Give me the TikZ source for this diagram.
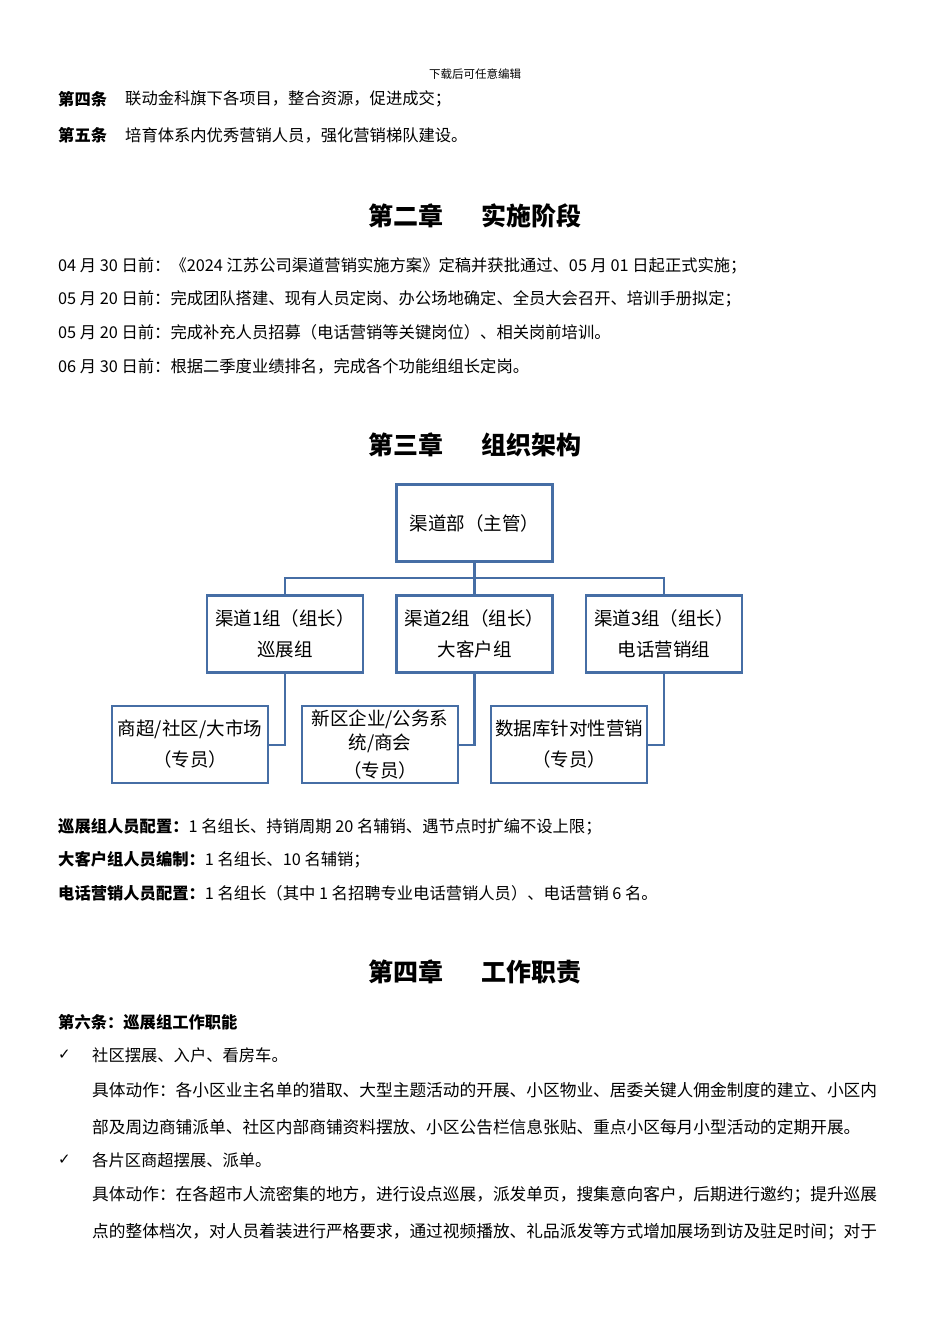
\documentclass[tikz,border=0pt]{standalone}
\usepackage{fontspec}
\setmainfont{Noto Sans CJK SC}
\newfontfamily\dvs{DejaVu Sans}
\definecolor{obc}{RGB}{70,110,165}
\begin{document}
\begin{tikzpicture}[x=1pt,y=-1pt,
 tl/.style={anchor=west,inner sep=0pt,font=\fontsize{16.3}{18}\selectfont},
 tw/.style={anchor=west,inner sep=0pt,font=\fontsize{16.7}{18}\selectfont},
 hd/.style={inner sep=0pt,font=\fontsize{25}{27}\selectfont\bfseries},
 ob/.style={draw=obc,line width=2.2pt,minimum width=156pt,minimum height=77pt,align=center,font=\fontsize{18.5}{31}\selectfont,inner sep=1pt},
 ln/.style={draw=obc,line width=2.2pt}]
\useasboundingbox (0,0) rectangle (950,1344);
\node[inner sep=0pt,font=\fontsize{11.5}{12}\selectfont] (hdr) at (475,74) {下载后可任意编辑};
\node[tl,font=\fontsize{16.3}{18}\selectfont\bfseries] (a4) at (58,99) {第四条};
\node[tl] (a4t) at (125,99) {联动金科旗下各项目，整合资源，促进成交；};
\node[tl,font=\fontsize{16.3}{18}\selectfont\bfseries] (a5) at (58,135) {第五条};
\node[tl] (a5t) at (125,135) {培育体系内优秀营销人员，强化营销梯队建设。};
\node[hd] (h2) at (475,216) {第二章\hspace{1.5em}实施阶段};
\node[tl] (l1) at (58,266) {04 月 30 日前：《2024 江苏公司渠道营销实施方案》定稿并获批通过、05 月 01 日起正式实施；};
\node[tl] (l2) at (58,299) {05 月 20 日前：完成团队搭建、现有人员定岗、办公场地确定、全员大会召开、培训手册拟定；};
\node[tl] (l3) at (58,332) {05 月 20 日前：完成补充人员招募（电话营销等关键岗位）、相关岗前培训。};
\node[tl] (l4) at (58,366) {06 月 30 日前：根据二季度业绩排名，完成各个功能组组长定岗。};
\node[hd] (h3) at (475,445) {第三章\hspace{1.5em}组织架构};
% org chart
\node[ob] (top) at (474.5,523) {渠道部（主管）};
\node[ob] (g1) at (285,634) {渠道1组（组长）\\巡展组};
\node[ob] (g2) at (474.5,634) {渠道2组（组长）\\大客户组};
\node[ob] (g3) at (664,634) {渠道3组（组长）\\电话营销组};
\node[ob] (s1) at (190,744.5) {商超/社区/大市场\\（专员）};
\node[ob,font=\fontsize{18.5}{24}\selectfont] (s2) at (380,744.5) {新区企业/公务系\\统/商会\\[4pt]（专员）};
\node[ob] (s3) at (569,744.5) {数据库针对性营销\\（专员）};
\coordinate (bus) at (474.5,578);
\draw[ln] (top.south) -- (bus);
\draw[ln] (g1.north) |- (bus) -| (g3.north);
\draw[ln] (bus) -- (g2.north);
\draw[ln] (g1.south) |- (s1.east |- 0,745);
\draw[ln] (g2.south) |- (s2.east |- 0,745);
\draw[ln] (g3.south) |- (s3.east |- 0,745);
\node[tl] (c1) at (58,827) {\textbf{巡展组人员配置：}1 名组长、持销周期 20 名辅销、遇节点时扩编不设上限；};
\node[tl] (c2) at (58,860) {\textbf{大客户组人员编制：}1 名组长、10 名辅销；};
\node[tl] (c3) at (58,893) {\textbf{电话营销人员配置：}1 名组长（其中 1 名招聘专业电话营销人员）、电话营销 6 名。};
\node[hd] (h4) at (475,972) {第四章\hspace{1.5em}工作职责};
\node[tl,font=\fontsize{16.3}{18}\selectfont\bfseries] (a6) at (58,1022) {第六条：巡展组工作职能};
\node[tl,font=\dvs\fontsize{15}{16}\selectfont] (ck1) at (58,1055) {✓};
\node[tl] (p1) at (92,1055) {社区摆展、入户、看房车。};
\node[tw] (p2) at (92,1090) {具体动作：各小区业主名单的猎取、大型主题活动的开展、小区物业、居委关键人佣金制度的建立、小区内};
\node[tw] (p3) at (92,1127) {部及周边商铺派单、社区内部商铺资料摆放、小区公告栏信息张贴、重点小区每月小型活动的定期开展。};
\node[tl,font=\dvs\fontsize{15}{16}\selectfont] (ck2) at (58,1160) {✓};
\node[tl] (p4) at (92,1160) {各片区商超摆展、派单。};
\node[tw] (p5) at (92,1195) {具体动作：在各超市人流密集的地方，进行设点巡展，派发单页，搜集意向客户，后期进行邀约；提升巡展};
\node[tw] (p6) at (92,1232) {点的整体档次，对人员着装进行严格要求，通过视频播放、礼品派发等方式增加展场到访及驻足时间；对于};
\end{tikzpicture}
\end{document}
